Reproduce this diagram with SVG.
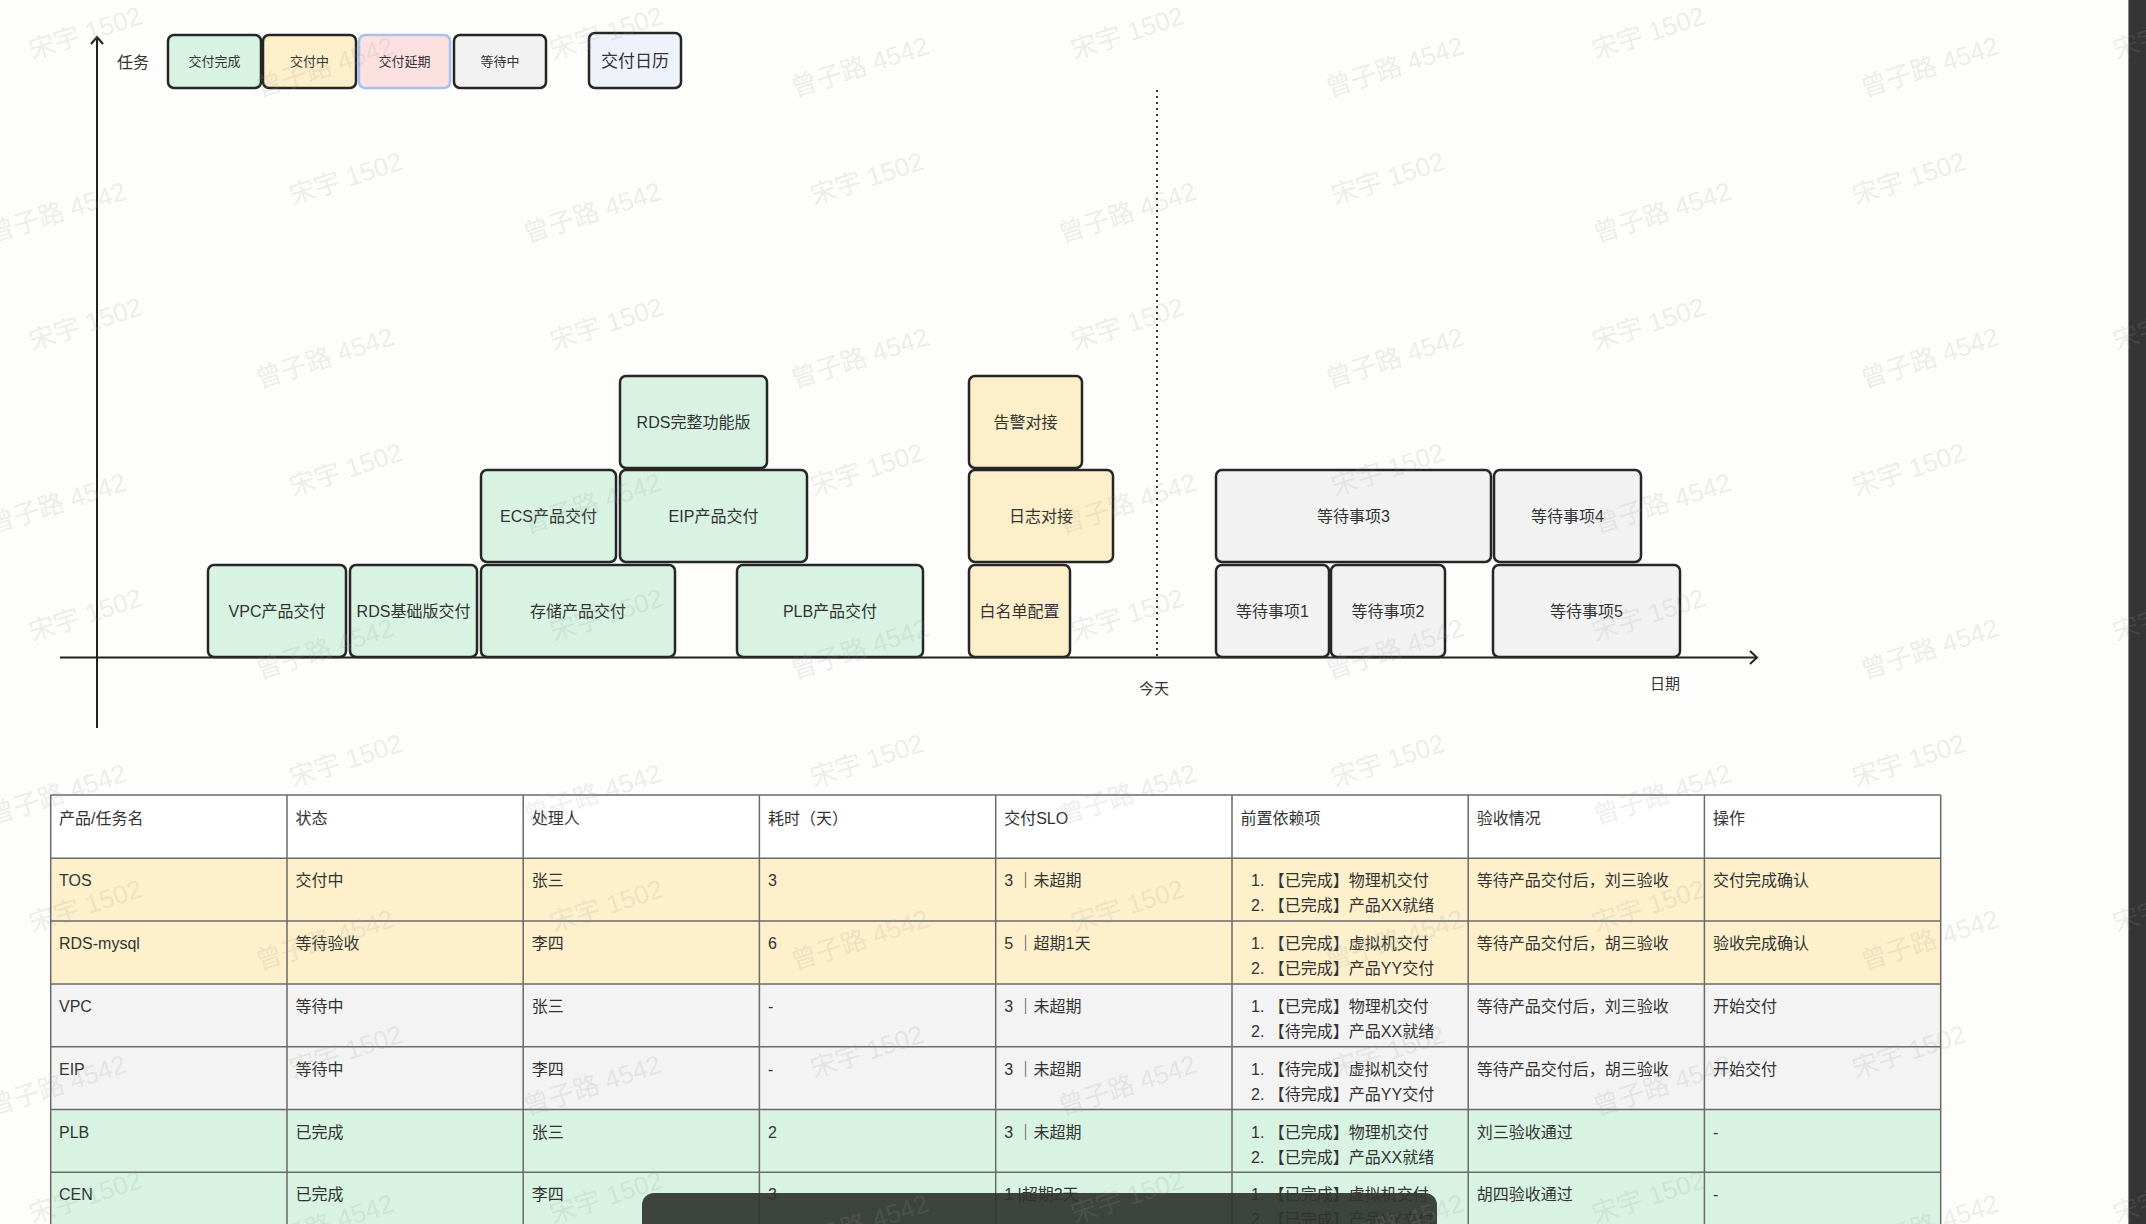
<svg xmlns="http://www.w3.org/2000/svg" width="2146" height="1224" viewBox="0 0 2146 1224">
<defs>
<style>
.bg{fill:#fdfdfc}
.box{stroke:#262626;stroke-width:2.5}
.done{fill:#d8f3e2}
.doing{fill:#fdefc9}
.wait{fill:#f2f2f2}
.delay{fill:#fde1e1}
.cal{fill:#edf2fb}
.nt{font-family:"Liberation Sans","Noto Sans CJK SC",sans-serif;font-size:16px;fill:#333;text-anchor:middle;dominant-baseline:central}
.lt{font-family:"Liberation Sans","Noto Sans CJK SC",sans-serif;font-size:13px;fill:#333;text-anchor:middle;dominant-baseline:central}
.ax{stroke:#222;stroke-width:2;fill:none}
.lab{font-family:"Liberation Sans","Noto Sans CJK SC",sans-serif;font-size:15px;fill:#333;text-anchor:middle;dominant-baseline:central}
.tt{font-family:"Liberation Sans","Noto Sans CJK SC",sans-serif;font-size:16px;fill:#333}
.grid{stroke:#6a6a6a;stroke-width:1.5;fill:none}
.wm{font-family:"Liberation Sans","Noto Sans CJK SC",sans-serif;font-size:26px;fill:#999;fill-opacity:0.18}
</style>
</defs>
<rect class="bg" x="0" y="0" width="2146" height="1224"/>

<!-- legend -->
<g id="legend-task-label"><text class="nt" x="133" y="62">任务</text></g>
<g id="legend-done"><rect class="box done" x="168" y="35" width="93" height="53" rx="6"/><text class="lt" x="214.5" y="61.5">交付完成</text></g>
<g id="legend-doing"><rect class="box doing" x="263" y="35" width="93" height="53" rx="6"/><text class="lt" x="309.5" y="61.5">交付中</text></g>
<g id="legend-delay"><rect class="delay" x="359" y="35" width="91" height="53" rx="6" stroke="#a7c1ef" stroke-width="2.5"/><text class="lt" x="404.5" y="61.5">交付延期</text></g>
<g id="legend-wait"><rect class="box wait" x="454" y="35" width="92" height="53" rx="6"/><text class="lt" x="500" y="61.5">等待中</text></g>
<g id="legend-calendar"><rect class="box cal" x="589" y="33" width="92" height="55" rx="6"/><text class="nt" x="635" y="61" style="font-size:17px">交付日历</text></g>

<!-- axes and today line -->
<g id="connectors">
<line class="ax" x1="97" y1="37" x2="97" y2="728"/>
<polyline class="ax" points="91,44 97,37 103,44"/>
<line class="ax" x1="60" y1="657.5" x2="1757" y2="657.5"/>
<polyline class="ax" points="1750,651 1757,657.5 1750,664"/>
<line x1="1157" y1="90" x2="1157" y2="656" stroke="#333" stroke-width="2" stroke-dasharray="2 4"/>
</g>
<g id="label-today"><text class="lab" x="1154" y="688">今天</text></g>
<g id="label-date"><text class="lab" x="1665" y="683">日期</text></g>

<!-- green nodes -->
<g id="node-vpc"><rect class="box done" x="208" y="565" width="138" height="92" rx="6"/><text class="nt" x="277" y="611">VPC产品交付</text></g>
<g id="node-rds-basic"><rect class="box done" x="350" y="565" width="127" height="92" rx="6"/><text class="nt" x="413.5" y="611">RDS基础版交付</text></g>
<g id="node-storage"><rect class="box done" x="481" y="565" width="194" height="92" rx="6"/><text class="nt" x="578" y="611">存储产品交付</text></g>
<g id="node-plb"><rect class="box done" x="737" y="565" width="186" height="92" rx="6"/><text class="nt" x="830" y="611">PLB产品交付</text></g>
<g id="node-ecs"><rect class="box done" x="481" y="470" width="135" height="92" rx="6"/><text class="nt" x="548.5" y="516">ECS产品交付</text></g>
<g id="node-eip"><rect class="box done" x="620" y="470" width="187" height="92" rx="6"/><text class="nt" x="713.5" y="516">EIP产品交付</text></g>
<g id="node-rds-full"><rect class="box done" x="620" y="376" width="147" height="92" rx="6"/><text class="nt" x="693.5" y="422">RDS完整功能版</text></g>

<!-- yellow nodes -->
<g id="node-whitelist"><rect class="box doing" x="969" y="565" width="101" height="92" rx="6"/><text class="nt" x="1019.5" y="611">白名单配置</text></g>
<g id="node-log"><rect class="box doing" x="969" y="470" width="144" height="92" rx="6"/><text class="nt" x="1041" y="516">日志对接</text></g>
<g id="node-alert"><rect class="box doing" x="969" y="376" width="113" height="92" rx="6"/><text class="nt" x="1025.5" y="422">告警对接</text></g>

<!-- gray nodes -->
<g id="node-wait1"><rect class="box wait" x="1216" y="565" width="113" height="92" rx="6"/><text class="nt" x="1272.5" y="611">等待事项1</text></g>
<g id="node-wait2"><rect class="box wait" x="1331" y="565" width="114" height="92" rx="6"/><text class="nt" x="1388" y="611">等待事项2</text></g>
<g id="node-wait5"><rect class="box wait" x="1493" y="565" width="187" height="92" rx="6"/><text class="nt" x="1586.5" y="611">等待事项5</text></g>
<g id="node-wait3"><rect class="box wait" x="1216" y="470" width="275" height="92" rx="6"/><text class="nt" x="1353.5" y="516">等待事项3</text></g>
<g id="node-wait4"><rect class="box wait" x="1494" y="470" width="147" height="92" rx="6"/><text class="nt" x="1567.5" y="516">等待事项4</text></g>

<!-- table -->
<g id="table">
<rect x="50.7" y="795" width="1890" height="63.3" fill="#ffffff"/>
<rect x="50.7" y="858.3" width="1890" height="125.6" fill="#fdf0cb"/>
<rect x="50.7" y="983.9" width="1890" height="125.6" fill="#f3f3f3"/>
<rect x="50.7" y="1109.5" width="1890" height="125.6" fill="#d8f3e2"/>
<g class="grid">
<line x1="50.7" y1="795" x2="1940.7" y2="795"/>
<line x1="50.7" y1="858.3" x2="1940.7" y2="858.3"/>
<line x1="50.7" y1="921.1" x2="1940.7" y2="921.1"/>
<line x1="50.7" y1="983.9" x2="1940.7" y2="983.9"/>
<line x1="50.7" y1="1046.7" x2="1940.7" y2="1046.7"/>
<line x1="50.7" y1="1109.5" x2="1940.7" y2="1109.5"/>
<line x1="50.7" y1="1172.3" x2="1940.7" y2="1172.3"/>
<line x1="50.7" y1="795" x2="50.7" y2="1224"/>
<line x1="287" y1="795" x2="287" y2="1224"/>
<line x1="523.2" y1="795" x2="523.2" y2="1224"/>
<line x1="759.4" y1="795" x2="759.4" y2="1224"/>
<line x1="995.7" y1="795" x2="995.7" y2="1224"/>
<line x1="1232" y1="795" x2="1232" y2="1224"/>
<line x1="1468.2" y1="795" x2="1468.2" y2="1224"/>
<line x1="1704.4" y1="795" x2="1704.4" y2="1224"/>
<line x1="1940.7" y1="795" x2="1940.7" y2="1224"/>
</g>
<g class="tt">
<text x="59" y="824">产品/任务名</text><text x="295.5" y="824">状态</text><text x="531.7" y="824">处理人</text><text x="767.9" y="824">耗时（天）</text><text x="1004.2" y="824">交付SLO</text><text x="1240.5" y="824">前置依赖项</text><text x="1476.7" y="824">验收情况</text><text x="1712.9" y="824">操作</text>

<text x="59" y="886.3">TOS</text><text x="295.5" y="886.3">交付中</text><text x="531.7" y="886.3">张三</text><text x="767.9" y="886.3">3</text><text x="1004.2" y="886.3">3 ｜未超期</text><text x="1251" y="886.3">1. 【已完成】物理机交付</text><text x="1251" y="911.3">2. 【已完成】产品XX就绪</text><text x="1476.7" y="886.3">等待产品交付后，刘三验收</text><text x="1712.9" y="886.3">交付完成确认</text>

<text x="59" y="949.1">RDS-mysql</text><text x="295.5" y="949.1">等待验收</text><text x="531.7" y="949.1">李四</text><text x="767.9" y="949.1">6</text><text x="1004.2" y="949.1">5 ｜超期1天</text><text x="1251" y="949.1">1. 【已完成】虚拟机交付</text><text x="1251" y="974.1">2. 【已完成】产品YY交付</text><text x="1476.7" y="949.1">等待产品交付后，胡三验收</text><text x="1712.9" y="949.1">验收完成确认</text>

<text x="59" y="1011.9">VPC</text><text x="295.5" y="1011.9">等待中</text><text x="531.7" y="1011.9">张三</text><text x="767.9" y="1011.9">-</text><text x="1004.2" y="1011.9">3 ｜未超期</text><text x="1251" y="1011.9">1. 【已完成】物理机交付</text><text x="1251" y="1036.9">2. 【待完成】产品XX就绪</text><text x="1476.7" y="1011.9">等待产品交付后，刘三验收</text><text x="1712.9" y="1011.9">开始交付</text>

<text x="59" y="1074.7">EIP</text><text x="295.5" y="1074.7">等待中</text><text x="531.7" y="1074.7">李四</text><text x="767.9" y="1074.7">-</text><text x="1004.2" y="1074.7">3 ｜未超期</text><text x="1251" y="1074.7">1. 【待完成】虚拟机交付</text><text x="1251" y="1099.7">2. 【待完成】产品YY交付</text><text x="1476.7" y="1074.7">等待产品交付后，胡三验收</text><text x="1712.9" y="1074.7">开始交付</text>

<text x="59" y="1137.5">PLB</text><text x="295.5" y="1137.5">已完成</text><text x="531.7" y="1137.5">张三</text><text x="767.9" y="1137.5">2</text><text x="1004.2" y="1137.5">3 ｜未超期</text><text x="1251" y="1137.5">1. 【已完成】物理机交付</text><text x="1251" y="1162.5">2. 【已完成】产品XX就绪</text><text x="1476.7" y="1137.5">刘三验收通过</text><text x="1712.9" y="1137.5">-</text>

<text x="59" y="1200.3">CEN</text><text x="295.5" y="1200.3">已完成</text><text x="531.7" y="1200.3">李四</text><text x="767.9" y="1200.3">3</text><text x="1004.2" y="1200.3">1 |超期2天</text><text x="1251" y="1200.3">1. 【已完成】虚拟机交付</text><text x="1251" y="1225.3">2. 【已完成】产品YY交付</text><text x="1476.7" y="1200.3">胡四验收通过</text><text x="1712.9" y="1200.3">-</text>
</g>
</g>

<!-- screen overlays -->
<rect id="toolbar" x="642" y="1193" width="795" height="50" rx="12" fill="#30342f" fill-opacity="0.92"/>
<rect id="side-bar" x="2128" y="0" width="18" height="1224" fill="#353535"/>
<line x1="2128.5" y1="0" x2="2128.5" y2="1224" stroke="#8a8a8a" stroke-width="1"/>

<!-- watermark -->
<g id="watermark" class="wm">
<text x="32.5" y="59.5" transform="rotate(-18 32.5 59.5)">宋宇 1502</text>
<text x="553.5" y="59.5" transform="rotate(-18 553.5 59.5)">宋宇 1502</text>
<text x="1074.5" y="59.5" transform="rotate(-18 1074.5 59.5)">宋宇 1502</text>
<text x="1595.5" y="59.5" transform="rotate(-18 1595.5 59.5)">宋宇 1502</text>
<text x="2116.5" y="59.5" transform="rotate(-18 2116.5 59.5)">宋宇 1502</text>
<text x="293" y="205" transform="rotate(-18 293 205)">宋宇 1502</text>
<text x="814" y="205" transform="rotate(-18 814 205)">宋宇 1502</text>
<text x="1335" y="205" transform="rotate(-18 1335 205)">宋宇 1502</text>
<text x="1856" y="205" transform="rotate(-18 1856 205)">宋宇 1502</text>
<text x="32.5" y="350.5" transform="rotate(-18 32.5 350.5)">宋宇 1502</text>
<text x="553.5" y="350.5" transform="rotate(-18 553.5 350.5)">宋宇 1502</text>
<text x="1074.5" y="350.5" transform="rotate(-18 1074.5 350.5)">宋宇 1502</text>
<text x="1595.5" y="350.5" transform="rotate(-18 1595.5 350.5)">宋宇 1502</text>
<text x="2116.5" y="350.5" transform="rotate(-18 2116.5 350.5)">宋宇 1502</text>
<text x="293" y="496" transform="rotate(-18 293 496)">宋宇 1502</text>
<text x="814" y="496" transform="rotate(-18 814 496)">宋宇 1502</text>
<text x="1335" y="496" transform="rotate(-18 1335 496)">宋宇 1502</text>
<text x="1856" y="496" transform="rotate(-18 1856 496)">宋宇 1502</text>
<text x="32.5" y="641.5" transform="rotate(-18 32.5 641.5)">宋宇 1502</text>
<text x="553.5" y="641.5" transform="rotate(-18 553.5 641.5)">宋宇 1502</text>
<text x="1074.5" y="641.5" transform="rotate(-18 1074.5 641.5)">宋宇 1502</text>
<text x="1595.5" y="641.5" transform="rotate(-18 1595.5 641.5)">宋宇 1502</text>
<text x="2116.5" y="641.5" transform="rotate(-18 2116.5 641.5)">宋宇 1502</text>
<text x="293" y="787" transform="rotate(-18 293 787)">宋宇 1502</text>
<text x="814" y="787" transform="rotate(-18 814 787)">宋宇 1502</text>
<text x="1335" y="787" transform="rotate(-18 1335 787)">宋宇 1502</text>
<text x="1856" y="787" transform="rotate(-18 1856 787)">宋宇 1502</text>
<text x="32.5" y="932.5" transform="rotate(-18 32.5 932.5)">宋宇 1502</text>
<text x="553.5" y="932.5" transform="rotate(-18 553.5 932.5)">宋宇 1502</text>
<text x="1074.5" y="932.5" transform="rotate(-18 1074.5 932.5)">宋宇 1502</text>
<text x="1595.5" y="932.5" transform="rotate(-18 1595.5 932.5)">宋宇 1502</text>
<text x="2116.5" y="932.5" transform="rotate(-18 2116.5 932.5)">宋宇 1502</text>
<text x="293" y="1078" transform="rotate(-18 293 1078)">宋宇 1502</text>
<text x="814" y="1078" transform="rotate(-18 814 1078)">宋宇 1502</text>
<text x="1335" y="1078" transform="rotate(-18 1335 1078)">宋宇 1502</text>
<text x="1856" y="1078" transform="rotate(-18 1856 1078)">宋宇 1502</text>
<text x="32.5" y="1223.5" transform="rotate(-18 32.5 1223.5)">宋宇 1502</text>
<text x="553.5" y="1223.5" transform="rotate(-18 553.5 1223.5)">宋宇 1502</text>
<text x="1074.5" y="1223.5" transform="rotate(-18 1074.5 1223.5)">宋宇 1502</text>
<text x="1595.5" y="1223.5" transform="rotate(-18 1595.5 1223.5)">宋宇 1502</text>
<text x="2116.5" y="1223.5" transform="rotate(-18 2116.5 1223.5)">宋宇 1502</text>
<text x="259.5" y="97.5" transform="rotate(-18 259.5 97.5)">曾子路 4542</text>
<text x="794.5" y="97.5" transform="rotate(-18 794.5 97.5)">曾子路 4542</text>
<text x="1329.5" y="97.5" transform="rotate(-18 1329.5 97.5)">曾子路 4542</text>
<text x="1864.5" y="97.5" transform="rotate(-18 1864.5 97.5)">曾子路 4542</text>
<text x="-8" y="243" transform="rotate(-18 -8 243)">曾子路 4542</text>
<text x="527" y="243" transform="rotate(-18 527 243)">曾子路 4542</text>
<text x="1062" y="243" transform="rotate(-18 1062 243)">曾子路 4542</text>
<text x="1597" y="243" transform="rotate(-18 1597 243)">曾子路 4542</text>
<text x="259.5" y="388.5" transform="rotate(-18 259.5 388.5)">曾子路 4542</text>
<text x="794.5" y="388.5" transform="rotate(-18 794.5 388.5)">曾子路 4542</text>
<text x="1329.5" y="388.5" transform="rotate(-18 1329.5 388.5)">曾子路 4542</text>
<text x="1864.5" y="388.5" transform="rotate(-18 1864.5 388.5)">曾子路 4542</text>
<text x="-8" y="534" transform="rotate(-18 -8 534)">曾子路 4542</text>
<text x="527" y="534" transform="rotate(-18 527 534)">曾子路 4542</text>
<text x="1062" y="534" transform="rotate(-18 1062 534)">曾子路 4542</text>
<text x="1597" y="534" transform="rotate(-18 1597 534)">曾子路 4542</text>
<text x="259.5" y="679.5" transform="rotate(-18 259.5 679.5)">曾子路 4542</text>
<text x="794.5" y="679.5" transform="rotate(-18 794.5 679.5)">曾子路 4542</text>
<text x="1329.5" y="679.5" transform="rotate(-18 1329.5 679.5)">曾子路 4542</text>
<text x="1864.5" y="679.5" transform="rotate(-18 1864.5 679.5)">曾子路 4542</text>
<text x="-8" y="825" transform="rotate(-18 -8 825)">曾子路 4542</text>
<text x="527" y="825" transform="rotate(-18 527 825)">曾子路 4542</text>
<text x="1062" y="825" transform="rotate(-18 1062 825)">曾子路 4542</text>
<text x="1597" y="825" transform="rotate(-18 1597 825)">曾子路 4542</text>
<text x="259.5" y="970.5" transform="rotate(-18 259.5 970.5)">曾子路 4542</text>
<text x="794.5" y="970.5" transform="rotate(-18 794.5 970.5)">曾子路 4542</text>
<text x="1329.5" y="970.5" transform="rotate(-18 1329.5 970.5)">曾子路 4542</text>
<text x="1864.5" y="970.5" transform="rotate(-18 1864.5 970.5)">曾子路 4542</text>
<text x="-8" y="1116" transform="rotate(-18 -8 1116)">曾子路 4542</text>
<text x="527" y="1116" transform="rotate(-18 527 1116)">曾子路 4542</text>
<text x="1062" y="1116" transform="rotate(-18 1062 1116)">曾子路 4542</text>
<text x="1597" y="1116" transform="rotate(-18 1597 1116)">曾子路 4542</text>
<text x="259.5" y="1255" transform="rotate(-18 259.5 1255)">曾子路 4542</text>
<text x="794.5" y="1255" transform="rotate(-18 794.5 1255)">曾子路 4542</text>
<text x="1329.5" y="1255" transform="rotate(-18 1329.5 1255)">曾子路 4542</text>
<text x="1864.5" y="1255" transform="rotate(-18 1864.5 1255)">曾子路 4542</text>
</g>
</svg>
